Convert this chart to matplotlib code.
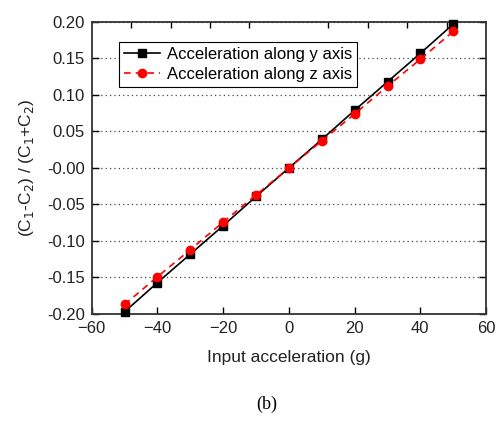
import numpy as np
import matplotlib.pyplot as plt

plt.rcParams['font.family'] = ['Liberation Sans', 'DejaVu Sans']

accel = [-50, -40, -30, -20, -10, 0, 10, 20, 30, 40, 50]
ratio_y = [-0.197, -0.157, -0.118, -0.079, -0.039, 0.0, 0.039, 0.079, 0.118, 0.157, 0.197]
ratio_z = [-0.187, -0.149, -0.112, -0.074, -0.037, 0.0, 0.037, 0.074, 0.112, 0.149, 0.187]

fig = plt.figure(figsize=(4.96, 4.22), dpi=100)
ax = fig.add_axes([0.185, 0.256, 0.795, 0.692])

ax.plot(accel, ratio_y, color='black', marker='s', markersize=5.5, linewidth=1.2,
        label='Acceleration along y axis', clip_on=False, zorder=3)
ax.plot(accel, ratio_z, color='red', marker='o', markersize=6, linewidth=1.2,
        linestyle=(0, (4, 3)), label='Acceleration along z axis', clip_on=False, zorder=4)

ax.set_xlim(-60, 60)
ax.set_ylim(-0.20, 0.20)
ax.set_xticks(np.arange(-60, 61, 20))
yt = np.arange(-0.20, 0.201, 0.05)
ax.set_yticks(yt)
ax.set_yticklabels(['%.2f' % v for v in yt])
# top axis carries its own tick spacing (every 12 units)
ax.xaxis.set_minor_locator(plt.MultipleLocator(12))
ax.tick_params(which='major', direction='in', top=False, right=True,
               labelsize=12, length=5, width=1, pad=5, labelcolor='#222222')
ax.tick_params(which='minor', direction='in', bottom=False, top=True,
               left=False, right=False, length=4, width=1)
ax.grid(True, axis='y', linestyle=(0, (1, 2.5)), color='#444444', linewidth=0.9)
for s in ax.spines.values():
    s.set_linewidth(1.3)
    s.set_color('#333333')

ax.set_xlabel('Input acceleration (g)', fontsize=12.5, labelpad=10, color='#222222')
ax.set_ylabel('(C$_1$-C$_2$) / (C$_1$+C$_2$)', fontsize=12.5, labelpad=8, color='#222222')

leg = ax.legend(loc='upper left', bbox_to_anchor=(0.068, 0.932), fontsize=12,
                fancybox=False, edgecolor='black', framealpha=1,
                handlelength=2.2, borderpad=0.3, labelspacing=0.3, handletextpad=0.4,
                borderaxespad=0)
leg.get_frame().set_linewidth(0.8)

fig.text(0.538, 0.03, '(b)', fontsize=13, family='Liberation Serif', ha='center')

fig.savefig('out.png', dpi=100)
